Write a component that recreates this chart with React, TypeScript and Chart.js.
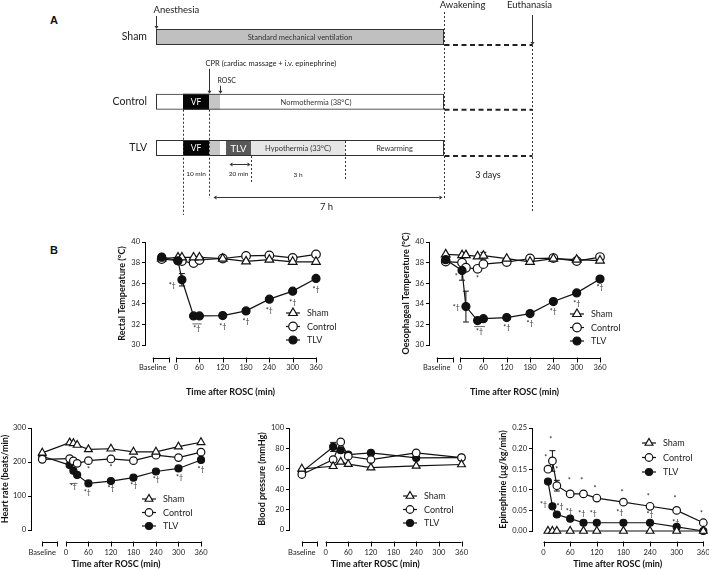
import React, { useEffect, useRef } from "react";
import { Chart, registerables } from "chart.js";

Chart.register(...registerables);

const FONT = "Lato, 'Open Sans', 'DejaVu Sans', sans-serif";
Chart.defaults.font.family = FONT;
Chart.defaults.color = "#222";

/* ---------------- Panel A : protocol (schematic time units) ---------------- */
const groups = ["Sham", "Control", "TLV"];
const groupRows = [0, 1.4, 2.4];
const protocolSpan = [0, 288];
const ventilationSpan = [0, 288];
const vfSpan = [27, 53];
const cprSpan = [53, 64];
const tlvSpan = [70, 95];
const hypothermiaSpan = [95, 189];
const awakeningAt = 288;
const euthanasiaAt = 376;
const barTexts: [string, number, number][] = [
  ["Standard mechanical ventilation", 0, 144],
  ["VF", 1, 40],
  ["Normothermia (38°C)", 1, 160],
  ["VF", 2, 40],
  ["TLV", 2, 82.5],
  ["Hypothermia (33°C)", 2, 142],
  ["Rewarming", 2, 238.5],
];

/* ---------------- Panel B : data ---------------- */
const timeTicks = [0, 60, 120, 180, 240, 300, 360];

// Rectal temperature (°C)
const tempTimes = [5, 15, 45, 60, 120, 180, 240, 300, 360];
const rectalBaseline = [38.4, 38.35, 38.54];
const rectalSham = [38.5, 38.5, 38.5, 38.5, 38.38, 38.12, 38.28, 38.08, 38.08];
const rectalControl = [38.2, 38.15, 37.95, 38.25, 38.4, 38.65, 38.7, 38.45, 38.8];
const rectalTlv = [38.18, 36.33, 32.82, 32.82, 32.86, 33.31, 34.45, 35.23, 36.46];
const rectalTlvSd = [null, 0.6, null, null, null, null, null, null, null];
const rectalMarks: [number, number, string][] = [
  [-10, 35.75, "*†"], [53, 31.62, "*†"], [120, 31.8, "*†"], [180, 32.27, "*†"],
  [240, 33.3, "*†"], [300, 34.12, "*†"], [360, 35.36, "*†"],
];
const rectalBars: [number, number, number][] = [[42, 66, 32.05]];

// Oesophageal temperature (°C)
const oesoBaseline = [38.8, 38.1, 38.28];
const oesoSham = [38.73, 38.73, 38.6, 38.67, 38.38, 38.08, 38.38, 38.28, 38.2];
const oesoControl = [38.0, 37.5, 37.4, 37.85, 38.05, 38.4, 38.44, 38.15, 38.54];
const oesoTlv = [37.24, 33.73, 32.37, 32.56, 32.66, 33.05, 34.22, 35.06, 36.4];
const oesoShamSd = [null, null, null, 0.33, null, null, null, null, null];
const oesoTlvSd = [0.95, 1.5, null, null, null, null, null, null, null];
const oesoMarks: [number, number, string][] = [
  [-10, 36.66, "*"], [45, 36.43, "*"], [-10, 33.57, "*†"], [50, 31.3, "*†"],
  [120, 31.69, "*†"], [180, 32.05, "*†"], [240, 33.18, "*†"], [300, 33.99, "*†"], [360, 35.52, "*†"],
];
const oesoBars: [number, number, number][] = [[36, 64, 31.79]];

// Heart rate (beats/min)
const hrTimes = [10, 20, 30, 60, 120, 180, 240, 300, 360];
const hrBaseline = [227, 208, 217];
const hrSham = [257, 255, 250, 237, 239, 230, 230, 245, 258];
const hrControl = [210, 203, 196, 204, 209, 204, 220, 213, 229];
const hrTlv = [191, 174, 162, 137, 144, 154, 172, 181, 206];
const hrMarks: [number, number, string][] = [
  [60, 178, "*"], [120, 183, "*"], [20, 127, "*†"], [57, 111, "*†"], [120, 121, "*†"],
  [181, 129, "*†"], [241, 147, "*†"], [303, 155, "*†"], [360, 176, "*†"],
];
const hrBars: [number, number, number][] = [[10, 31, 137]];

// Blood pressure (mmHg)
const bpTimes = [20, 40, 60, 120, 240, 360];
const bpBaseline = [60, 54.4, 57];
const bpSham = [62.5, 66.8, 64.5, 61.2, 62.9, 64.2];
const bpControl = [69, 86.3, 72.3, 69, 75.6, 71];
const bpTlv = [81.4, 78.2, 74, 75.6, 70.7, 71];
const bpTlvSd = [4.5, null, null, null, null, null];

// Epinephrine (µg/kg/min)
const epiTimes = [10, 20, 30, 60, 90, 120, 180, 240, 300, 360];
const epiSham = [0, 0, 0, 0, 0, 0, 0, 0, 0, 0];
const epiControl = [0.15, 0.17, 0.11, 0.09, 0.09, 0.08, 0.07, 0.06, 0.05, 0.02];
const epiTlv = [0.12, 0.06, 0.04, 0.03, 0.02, 0.02, 0.02, 0.02, 0.01, 0.0];
const epiControlSd = [null, 0.025, 0.013, null, null, null, null, null, null, null];
const epiMarks: [number, number, string][] = [
  [5, 0.178, "*"], [16, 0.222, "*"], [30, 0.149, "*"], [58, 0.123, "*"], [86, 0.123, "*"],
  [116, 0.103, "*"], [177, 0.093, "*"], [236, 0.083, "*"], [296, 0.079, "*"], [356, 0.041, "*"],
  [0, 0.0645, "*†"], [37, 0.059, "*†"], [58, 0.047, "*†"], [86, 0.041, "*†"], [112, 0.041, "*†"],
  [172, 0.045, "*†"], [240, 0.039, "*†"], [298, 0.021, "*†"],
];

/* ---------------- helpers ---------------- */
type Box = {
  left: number; top: number; width: number; height: number;
  yW: number; padTop: number; padRight: number; xH: number;
  yTitlePad: number; xTitlePad: number; axisGap: number; tickPad: number;
  legendDx: number; legendDy: number; legendGap: number;
  rTri: number; rCirc: number; rDot: number;
};

type Spec = {
  times: number[];
  sham: number[]; control: number[]; tlv: number[];
  baseline?: number[]; baselineAt?: number; bracket?: number[];
  shamSd?: (number | null)[]; controlSd?: (number | null)[]; tlvSd?: (number | null)[];
  yMin: number; yMax: number; yStep: number; decimals: number;
  xMin: number; yTitle: string;
  marks: [number, number, string][]; bars: [number, number, number][];
  tlvOnTop: boolean; box: Box;
};

function drawMarker(ctx: CanvasRenderingContext2D, style: string, x: number, y: number, r: number, fill: string) {
  ctx.beginPath();
  if (style === "triangle") {
    ctx.moveTo(x, y - r);
    ctx.lineTo(x + 0.866 * r, y + 0.5 * r);
    ctx.lineTo(x - 0.866 * r, y + 0.5 * r);
    ctx.closePath();
  } else {
    ctx.arc(x, y, r, 0, Math.PI * 2);
  }
  ctx.fillStyle = fill;
  ctx.fill();
  ctx.lineWidth = 1.2;
  ctx.strokeStyle = "#111";
  ctx.stroke();
}

function seriesDecor(spec: Spec) {
  const b = spec.box;
  return {
    id: "seriesDecor",
    beforeDatasetsDraw(chart: any) {
      const { ctx } = chart;
      const xs = chart.scales.x, ys = chart.scales.y;
      ctx.save();
      ctx.strokeStyle = "#111";
      ctx.lineWidth = 1;
      const list: [number[], (number | null)[] | undefined][] = [
        [spec.sham, spec.shamSd], [spec.control, spec.controlSd], [spec.tlv, spec.tlvSd],
      ];
      list.forEach(([vals, errs]) => {
        if (!errs) return;
        errs.forEach((e, i) => {
          if (e == null) return;
          const x = xs.getPixelForValue(spec.times[i]);
          const y0 = ys.getPixelForValue(vals[i] - e);
          const y1 = ys.getPixelForValue(vals[i] + e);
          ctx.beginPath();
          ctx.moveTo(x, y0); ctx.lineTo(x, y1);
          ctx.moveTo(x - 3, y0); ctx.lineTo(x + 3, y0);
          ctx.moveTo(x - 3, y1); ctx.lineTo(x + 3, y1);
          ctx.stroke();
        });
      });
      ctx.restore();
    },
    afterDatasetsDraw(chart: any) {
      const { ctx, chartArea: a } = chart;
      const xs = chart.scales.x, ys = chart.scales.y;
      const px = (v: number) => xs.getPixelForValue(v);
      const py = (v: number) => ys.getPixelForValue(v);
      ctx.save();
      // significance marks
      ctx.fillStyle = "#222";
      ctx.font = `7px ${FONT}`;
      ctx.textAlign = "center";
      ctx.textBaseline = "middle";
      spec.marks.forEach(([t, v, s]) => ctx.fillText(s, px(t), py(v)));
      ctx.strokeStyle = "#444";
      ctx.lineWidth = 0.8;
      spec.bars.forEach(([t0, t1, v]) => {
        ctx.beginPath();
        ctx.moveTo(px(t0), py(v));
        ctx.lineTo(px(t1), py(v));
        ctx.stroke();
      });
      // offset (Prism-like) x axis
      const yA = Math.round(a.bottom + b.axisGap) + 0.5;
      ctx.strokeStyle = "#000";
      ctx.lineWidth = 1;
      ctx.beginPath();
      ctx.moveTo(px(0), yA);
      ctx.lineTo(px(360), yA);
      timeTicks.forEach((t) => {
        const x = Math.round(px(t)) + 0.5;
        ctx.moveTo(x, yA - 1);
        ctx.lineTo(x, yA + 4);
      });
      if (spec.bracket) {
        const [b0, b1] = spec.bracket;
        ctx.moveTo(px(b0), yA);
        ctx.lineTo(px(b1), yA);
        [b0, b1].forEach((t) => {
          const x = Math.round(px(t)) + 0.5;
          ctx.moveTo(x, yA - 1);
          ctx.lineTo(x, yA + 4);
        });
      }
      ctx.stroke();
      // legend
      const styles = [
        { style: "triangle", fill: "#fff", r: b.rTri },
        { style: "circle", fill: "#fff", r: b.rCirc },
        { style: "circle", fill: "#111", r: b.rDot },
      ];
      groups.forEach((name, i) => {
        const x = a.left + b.legendDx;
        const y = a.top + b.legendDy + i * b.legendGap;
        ctx.strokeStyle = "#111";
        ctx.lineWidth = 1.2;
        ctx.beginPath();
        ctx.moveTo(x - 7, y);
        ctx.lineTo(x + 7, y);
        ctx.stroke();
        drawMarker(ctx, styles[i].style, x, y, styles[i].r, styles[i].fill);
        ctx.fillStyle = "#222";
        ctx.font = `9px ${FONT}`;
        ctx.textAlign = "left";
        ctx.textBaseline = "middle";
        ctx.fillText(name, x + 14, y + 0.5);
      });
      ctx.restore();
    },
  };
}

function seriesConfig(spec: Spec): any {
  const b = spec.box;
  const withBaseline = spec.baselineAt !== undefined && spec.baseline !== undefined;
  const mk = (k: number, vals: number[], style: string, fill: string, r: number, order: number) => ({
    label: groups[k],
    data: [
      ...(withBaseline ? [{ x: spec.baselineAt, y: spec.baseline![k] }] : []),
      ...spec.times.map((t, i) => ({ x: t, y: vals[i] })),
    ],
    borderColor: "#111",
    borderWidth: 1.2,
    backgroundColor: fill,
    pointStyle: style,
    pointRadius: r,
    pointBackgroundColor: fill,
    pointBorderColor: "#111",
    pointBorderWidth: 1.2,
    tension: 0,
    clip: false,
    order,
  });
  const xTicks = spec.bracket ? [spec.bracket[0], ...timeTicks] : timeTicks;
  const zeroPad = (s: any) => { s.paddingLeft = 0; s.paddingRight = 0; s.paddingTop = 0; s.paddingBottom = 0; };
  return {
    type: "line",
    data: {
      datasets: [
        mk(0, spec.sham, "triangle", "#fff", b.rTri, 0),
        mk(1, spec.control, "circle", "#fff", b.rCirc, 0),
        mk(2, spec.tlv, "circle", "#111", b.rDot, spec.tlvOnTop ? -1 : 0),
      ],
    },
    options: {
      animation: false,
      responsive: false,
      events: [],
      layout: { padding: { left: 0, top: b.padTop, right: b.padRight, bottom: 0 } },
      plugins: { legend: { display: false }, tooltip: { enabled: false } },
      scales: {
        x: {
          type: "linear",
          min: spec.xMin,
          max: 360,
          offset: false,
          afterBuildTicks: (s: any) => { s.ticks = xTicks.map((v) => ({ value: v })); },
          ticks: {
            autoSkip: false,
            maxRotation: 0,
            padding: b.tickPad,
            font: { size: 7.5 },
            color: "#222",
            callback: (v: number) => (spec.bracket && v === spec.bracket[0] ? "Baseline" : String(v)),
          },
          grid: { display: false, drawTicks: false },
          border: { display: false },
          title: {
            display: true,
            text: "Time after ROSC (min)",
            font: { size: 9, weight: "bold" },
            color: "#111",
            padding: { top: 0, bottom: b.xTitlePad },
          },
          afterFit: (s: any) => { s.height = b.xH; zeroPad(s); },
        },
        y: {
          type: "linear",
          min: spec.yMin,
          max: spec.yMax,
          ticks: {
            stepSize: spec.yStep,
            padding: 2,
            font: { size: 7.5 },
            color: "#222",
            callback: (v: number) => (spec.decimals ? Number(v).toFixed(spec.decimals) : String(Math.round(v))),
          },
          grid: { drawOnChartArea: false, drawTicks: true, tickLength: 3, color: "#000", lineWidth: 1 },
          border: { display: true, color: "#000", width: 1 },
          title: {
            display: true,
            text: spec.yTitle,
            font: { size: 9, weight: "bold" },
            color: "#111",
            padding: { top: b.yTitlePad, bottom: 0 },
          },
          afterFit: (s: any) => { s.width = b.yW; zeroPad(s); },
        },
      },
    },
    plugins: [seriesDecor(spec)],
  };
}

/* ---------------- Panel A config ---------------- */
const protocolDecor = {
  id: "protocolDecor",
  afterDatasetsDraw(chart: any) {
    const ctx: CanvasRenderingContext2D = chart.ctx;
    const xs = chart.scales.x, ys = chart.scales.y;
    const px = (u: number) => Math.round(xs.getPixelForValue(u)) + 0.5;
    const rows = groupRows.map((r) => ys.getPixelForValue(r));
    const [yS, yC, yT] = rows;
    const h = 8;
    const text = (s: string, x: number, y: number, size: number, align: CanvasTextAlign = "center", color = "#222", weight = "normal") => {
      ctx.font = `${weight} ${size}px ${FONT}`;
      ctx.fillStyle = color;
      ctx.textAlign = align;
      ctx.textBaseline = "middle";
      ctx.fillText(s, x, y);
    };
    const seg = (x0: number, y0: number, x1: number, y1: number, dash: number[], width = 1, color = "#333") => {
      ctx.save();
      ctx.setLineDash(dash);
      ctx.lineWidth = width;
      ctx.strokeStyle = color;
      ctx.beginPath();
      ctx.moveTo(x0, y0);
      ctx.lineTo(x1, y1);
      ctx.stroke();
      ctx.restore();
    };
    const head = (x: number, y: number, dir: string) => {
      const s = 3;
      ctx.beginPath();
      if (dir === "down") { ctx.moveTo(x, y); ctx.lineTo(x - 2, y - s); ctx.lineTo(x + 2, y - s); }
      if (dir === "left") { ctx.moveTo(x, y); ctx.lineTo(x + s, y - 2); ctx.lineTo(x + s, y + 2); }
      if (dir === "right") { ctx.moveTo(x, y); ctx.lineTo(x - s, y - 2); ctx.lineTo(x - s, y + 2); }
      ctx.closePath();
      ctx.fillStyle = "#333";
      ctx.fill();
    };
    ctx.save();
    // texts inside bars
    barTexts.forEach(([s, gi, u]) => {
      const dark = s === "VF" || s === "TLV";
      text(s, xs.getPixelForValue(u), rows[gi] + 0.5, s === "TLV" ? 9.5 : dark ? 8.5 : 7.5, "center", dark ? "#fff" : "#333");
    });
    const dotted = [2, 2];
    // Anesthesia
    text("Anesthesia", px(0) - 3, yS - 27, 9.5, "left");
    seg(px(0), yS - 21, px(0), yS - h - 2, []);
    head(px(0), yS - h, "down");
    // CPR + ROSC
    text("CPR (cardiac massage + i.v. epinephrine)", px(cprSpan[0]) - 4, yC - 38, 7.5, "left");
    seg(px(cprSpan[0]), yC - 33, px(cprSpan[0]), yC - h - 2, []);
    head(px(cprSpan[0]), yC - h, "down");
    text("ROSC", px(cprSpan[1]) - 3, yC - 21, 7, "left");
    seg(px(cprSpan[1]), yC - 16, px(cprSpan[1]), yC - h - 2, []);
    head(px(cprSpan[1]), yC - h, "down");
    // Awakening / Euthanasia
    text("Awakening", px(awakeningAt) + 18, yS - 32, 9.5);
    seg(px(awakeningAt), yS - 25, px(awakeningAt), yT + 52, dotted);
    text("Euthanasia", px(euthanasiaAt) - 3, yS - 32, 9.5);
    seg(px(euthanasiaAt), yS - 22, px(euthanasiaAt), yS + h - 2, [], 1);
    head(px(euthanasiaAt), yS + h, "down");
    seg(px(euthanasiaAt), yS + h, px(euthanasiaAt), yT + 65, dotted);
    rows.forEach((y) => seg(px(awakeningAt), y + h, px(euthanasiaAt), y + h, [5, 3.5], 1.8, "#222"));
    // phase guides
    seg(px(vfSpan[0]), yC + h, px(vfSpan[0]), yT + 67, dotted);
    seg(px(vfSpan[1]), yC + h, px(vfSpan[1]), yT + 50, dotted);
    seg(px(tlvSpan[1]), yT + h, px(tlvSpan[1]), yT + 34, dotted);
    seg(px(hypothermiaSpan[1]), yT - h + 1, px(hypothermiaSpan[1]), yT + 33, dotted);
    text("10 min", xs.getPixelForValue((vfSpan[0] + vfSpan[1]) / 2), yT + 26, 6.5);
    seg(px(tlvSpan[0] + 3) + 3, yT + 16.5, px(tlvSpan[1] - 1) - 3, yT + 16.5, [], 1);
    head(px(tlvSpan[0] + 3), yT + 16.5, "left");
    head(px(tlvSpan[1] - 1), yT + 16.5, "right");
    text("20 min", xs.getPixelForValue((tlvSpan[0] + tlvSpan[1]) / 2), yT + 26, 6.5);
    text("3 h", xs.getPixelForValue((hypothermiaSpan[0] + hypothermiaSpan[1]) / 2), yT + 27, 6.5);
    text("3 days", xs.getPixelForValue((awakeningAt + euthanasiaAt) / 2), yT + 27, 9);
    // 7 h arrow
    const x7a = px(cprSpan[0] + 4), x7b = px(awakeningAt - 2);
    seg(x7a + 3, yT + 49.5, x7b - 3, yT + 49.5, [], 1);
    head(x7a, yT + 49.5, "left");
    head(x7b, yT + 49.5, "right");
    text("7 h", xs.getPixelForValue((cprSpan[0] + awakeningAt) / 2), yT + 59, 9.5);
    ctx.restore();
  },
};

function protocolConfig(): any {
  const pt = (gi: number, span: number[]) => ({ y: groupRows[gi], x: span });
  return {
    type: "bar",
    data: {
      datasets: [
        { label: "Protocol", data: [0, 1, 2].map((i) => pt(i, protocolSpan)), backgroundColor: "rgba(0,0,0,0)", borderColor: "#333", borderWidth: 1, borderSkipped: false, order: 0 },
        { label: "Standard mechanical ventilation", data: [pt(0, ventilationSpan)], backgroundColor: "#c0c0c0", order: 1 },
        { label: "VF", data: [pt(1, vfSpan), pt(2, vfSpan)], backgroundColor: "#050505", order: 1 },
        { label: "CPR", data: [pt(1, cprSpan), pt(2, cprSpan)], backgroundColor: "#c6c6c6", order: 1 },
        { label: "TLV", data: [pt(2, tlvSpan)], backgroundColor: "#595959", order: 1 },
        { label: "Hypothermia (33°C)", data: [pt(2, hypothermiaSpan)], backgroundColor: "#e6e6e6", order: 1 },
      ],
    },
    options: {
      indexAxis: "y",
      animation: false,
      responsive: false,
      events: [],
      datasets: { bar: { grouped: false, maxBarThickness: 16 } },
      layout: { padding: { left: 0, right: 177, top: 0, bottom: 0 } },
      plugins: { legend: { display: false }, tooltip: { enabled: false } },
      scales: {
        x: { type: "linear", min: 0, max: euthanasiaAt, display: false, offset: false },
        y: {
          type: "linear",
          reverse: true,
          offset: false,
          min: -0.8,
          max: 4.065,
          afterBuildTicks: (s: any) => { s.ticks = groupRows.map((v) => ({ value: v })); },
          ticks: { callback: (_v: number, i: number) => groups[i], font: { size: 10.5 }, color: "#222", padding: 9, autoSkip: false },
          grid: { display: false, drawTicks: false, offset: false },
          border: { display: false },
          afterFit: (s: any) => { s.width = 156; s.paddingTop = 0; s.paddingBottom = 0; },
        },
      },
    },
    plugins: [protocolDecor],
  };
}

/* ---------------- Panel B specs ---------------- */
const topBox = { top: 232, height: 165, yW: 35, padTop: 10, xH: 52, yTitlePad: 7, xTitlePad: 0, axisGap: 13, tickPad: 18, legendGap: 13.5, rTri: 5, rCirc: 4.3, rDot: 4 };
const lowBox = { top: 418, height: 151, padTop: 10, xH: 39, xTitlePad: 0, axisGap: 12, tickPad: 18.5, legendGap: 13.5, rTri: 4.5, rCirc: 3.8, rDot: 3.5 };

const specs: Spec[] = [
  {
    times: tempTimes, sham: rectalSham, control: rectalControl, tlv: rectalTlv, tlvSd: rectalTlvSd,
    baseline: rectalBaseline, baselineAt: -37, bracket: [-60, -18],
    yMin: 30, yMax: 40, yStep: 2, decimals: 0, xMin: -80, yTitle: "Rectal Temperature (°C)",
    marks: rectalMarks, bars: rectalBars, tlvOnTop: true,
    box: { ...topBox, left: 110, width: 250, padRight: 44, legendDx: 148, legendDy: 71 } as Box,
  },
  {
    times: tempTimes, sham: oesoSham, control: oesoControl, tlv: oesoTlv, shamSd: oesoShamSd, tlvSd: oesoTlvSd,
    baseline: oesoBaseline, baselineAt: -37, bracket: [-60, -18],
    yMin: 30, yMax: 40, yStep: 2, decimals: 0, xMin: -80, yTitle: "Oesophageal Temperature (°C)",
    marks: oesoMarks, bars: oesoBars, tlvOnTop: true,
    box: { ...topBox, left: 394, width: 255, padRight: 49, legendDx: 148, legendDy: 72 } as Box,
  },
  {
    times: hrTimes, sham: hrSham, control: hrControl, tlv: hrTlv,
    baseline: hrBaseline, baselineAt: -63, bracket: [-63, -23],
    yMin: 0, yMax: 300, yStep: 100, decimals: 0, xMin: -93, yTitle: "Heart rate (beats/min)",
    marks: hrMarks, bars: hrBars, tlvOnTop: false,
    box: { ...lowBox, left: 0, width: 230, yW: 31, padRight: 29, yTitlePad: 0, legendDx: 118, legendDy: 71 } as Box,
  },
  {
    times: bpTimes, sham: bpSham, control: bpControl, tlv: bpTlv, tlvSd: bpTlvSd,
    baseline: bpBaseline, baselineAt: -63, bracket: [-63, -22],
    yMin: 0, yMax: 100, yStep: 20, decimals: 0, xMin: -97, yTitle: "Blood pressure (mmHg)",
    marks: [], bars: [], tlvOnTop: false,
    box: { ...lowBox, left: 250, width: 230, yW: 39, padRight: 18.5, yTitlePad: 6.6, legendDx: 121, legendDy: 68 } as Box,
  },
  {
    times: epiTimes, sham: epiSham, control: epiControl, tlv: epiTlv, controlSd: epiControlSd,
    yMin: 0, yMax: 0.25, yStep: 0.05, decimals: 2, xMin: -26, yTitle: "Epinephrine (µg/kg/min)",
    marks: epiMarks, bars: [], tlvOnTop: false,
    box: { ...lowBox, left: 490, width: 219, yW: 42, padRight: 5, xH: 38, axisGap: 11, tickPad: 17.5, yTitlePad: 7.6, legendDx: 117, legendDy: 15, legendGap: 14.5 } as Box,
  },
];

/* ---------------- components ---------------- */
function ChartCanvas({ make, left, top, width, height }: { make: () => any; left: number; top: number; width: number; height: number }) {
  const ref = useRef<HTMLCanvasElement>(null);
  useEffect(() => {
    const chart = new Chart(ref.current as HTMLCanvasElement, make());
    return () => chart.destroy();
  }, []);
  return (
    <canvas
      ref={ref}
      width={width}
      height={height}
      style={{ position: "absolute", left, top, width, height }}
    />
  );
}

const panelLabel: React.CSSProperties = {
  position: "absolute",
  fontFamily: "'Liberation Sans', Arial, sans-serif",
  fontWeight: "bold",
  fontSize: 11,
  lineHeight: "11px",
  color: "#111",
};

export default function App() {
  return (
    <div style={{ position: "absolute", left: 0, top: 0, width: 709, height: 569, background: "#fff", overflow: "hidden" }}>
      <div style={{ ...panelLabel, left: 50, top: 15 }}>A</div>
      <div style={{ ...panelLabel, left: 50, top: 245 }}>B</div>
      <ChartCanvas make={protocolConfig} left={0} top={0} width={709} height={225} />
      {specs.map((s, i) => (
        <ChartCanvas key={i} make={() => seriesConfig(s)} left={s.box.left} top={s.box.top} width={s.box.width} height={s.box.height} />
      ))}
    </div>
  );
}
